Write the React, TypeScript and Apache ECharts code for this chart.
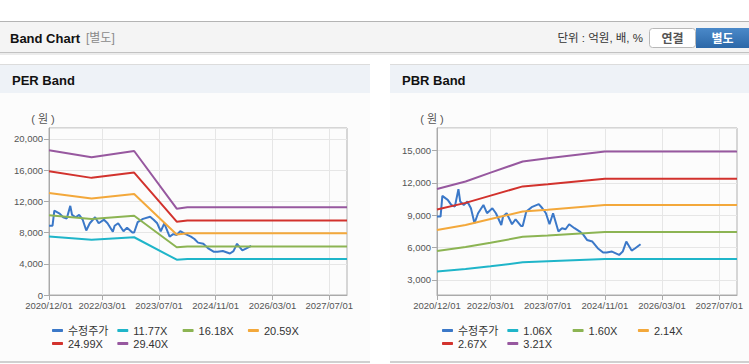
import React, { useEffect, useRef } from 'react';
import * as echarts from 'echarts';

// ---- axis labels ----
const xTickLabels = ['2020/12/01', '2022/03/01', '2023/07/01', '2024/11/01', '2026/03/01', '2027/07/01'];

// ---- adjusted price (수정주가) ----
const priceDates = [
  '2020/12/01', '2021/01/01', '2021/01/15', '2021/03/01', '2021/04/01', '2021/05/01', '2021/06/01', '2021/06/15',
  '2021/07/15', '2021/08/15', '2021/09/15', '2021/10/15', '2021/11/15', '2022/01/01', '2022/02/01', '2022/03/15',
  '2022/04/15', '2022/06/01', '2022/06/15', '2022/07/15', '2022/09/01', '2022/10/01', '2022/11/15', '2022/12/01',
  '2023/01/01', '2023/02/15', '2023/04/15', '2023/05/15', '2023/06/15', '2023/07/15', '2023/08/15', '2023/10/01',
  '2023/11/01', '2023/12/01', '2024/01/01', '2024/02/15', '2024/04/01', '2024/05/01', '2024/06/01', '2024/07/15',
  '2024/09/01', '2024/10/15', '2024/11/15', '2025/01/01', '2025/03/01', '2025/04/01', '2025/05/01', '2025/06/15',
  '2025/07/15', '2025/09/01',
];
const priceValues = [
  8880, 8880, 10800, 10430, 9960, 9800, 11420, 10270,
  9960, 10270, 9650, 8260, 9190, 9960, 9190, 9650,
  9190, 8100, 8880, 9190, 8170, 8630, 8010, 8010,
  9340, 9750, 10030, 9650, 9190, 8170, 9190, 7490,
  7800, 7700, 8170, 7800, 7490, 7180, 6710, 6560,
  5940, 5540, 5540, 5630, 5320, 5630, 6560, 5720,
  5940, 6310,
];

// ---- PER band ----
const perBandDates = ['2020/12/01', '2021/12/01', '2022/12/01', '2023/12/01', '2024/03/01', '2027/12/01'];
const per1177 = [7500, 7080, 7400, 4520, 4600, 4600];
const per1618 = [10220, 9740, 10150, 6120, 6220, 6220];
const per2059 = [13070, 12370, 12930, 7740, 7900, 7900];
const per2499 = [15850, 15010, 15690, 9400, 9560, 9560];
const per2940 = [18550, 17650, 18450, 11060, 11230, 11230];

// ---- PBR band ----
const pbrBandDates = ['2020/12/01', '2021/08/01', '2022/03/01', '2022/12/01', '2023/07/01', '2024/11/01', '2027/12/01'];
const pbr106 = [3790, 4010, 4260, 4630, 4740, 4930, 4930];
const pbr160 = [5680, 6060, 6440, 7000, 7120, 7450, 7450];
const pbr214 = [7630, 8100, 8650, 9350, 9520, 9950, 9950];
const pbr267 = [9540, 10150, 10820, 11680, 11880, 12400, 12400];
const pbr321 = [11430, 12130, 12960, 13990, 14300, 14920, 14920];

const perNames = ['수정주가', '11.77X', '16.18X', '20.59X', '24.99X', '29.40X'];
const pbrNames = ['수정주가', '1.06X', '1.60X', '2.14X', '2.67X', '3.21X'];
const colors = ['#3b78c8', '#1fb5c9', '#8cb453', '#f3a83b', '#d2322d', '#97589f'];

// monthly / mid-month categories 2020/12 .. 2027/12
const pad = (n: number) => (n < 10 ? '0' + n : '' + n);
const categories: string[] = [];
for (let m = 0; m <= 84; m++) {
  const y = 2020 + Math.floor((m + 11) / 12);
  const mo = ((m + 11) % 12) + 1;
  categories.push(`${y}/${pad(mo)}/01`);
  if (m < 84) categories.push(`${y}/${pad(mo)}/15`);
}

const FONT = "'Liberation Sans', 'Noto Sans CJK KR', sans-serif";
const labelSet = new Set(xTickLabels);
const showAt = (_i: number, v: string) => labelSet.has(v);

const pairs = (dates: string[], vals: number[]) => dates.map((d, i) => [d, vals[i]]);

function xAxisFor(gridIndex: number) {
  return {
    type: 'category',
    gridIndex,
    data: categories,
    boundaryGap: false,
    axisLine: { show: true, lineStyle: { color: '#aaaaaa' } },
    axisTick: { show: true, interval: showAt, length: 5, lineStyle: { color: '#aaaaaa' } },
    axisLabel: { interval: showAt, fontSize: 9.5, color: '#555', margin: 6, fontFamily: FONT },
    splitLine: { show: true, interval: showAt, lineStyle: { color: '#e6e6e6' } },
  };
}

function App() {
  const ref = useRef<HTMLDivElement>(null);
  useEffect(() => {
    if (!ref.current) return;
    const chart = echarts.init(ref.current, undefined, { renderer: 'svg' });

    const lineSeries = (name: string, xi: number, data: any[], color: string) => ({
      type: 'line',
      name,
      xAxisIndex: xi,
      yAxisIndex: xi,
      data,
      showSymbol: false,
      symbol: 'none',
      lineStyle: { width: 2, color },
      itemStyle: { color },
    });

    const perBands = [per1177, per1618, per2059, per2499, per2940];
    const pbrBands = [pbr106, pbr160, pbr214, pbr267, pbr321];

    const series: any[] = [];
    series.push(lineSeries(perNames[0], 0, pairs(priceDates, priceValues), colors[0]));
    perBands.forEach((b, i) => series.push(lineSeries(perNames[i + 1], 0, pairs(perBandDates, b), colors[i + 1])));
    series.push(lineSeries(pbrNames[0], 1, pairs(priceDates, priceValues), colors[0]));
    pbrBands.forEach((b, i) => series.push(lineSeries(pbrNames[i + 1], 1, pairs(pbrBandDates, b), colors[i + 1])));

    // one legend per item so that the items sit in fixed columns
    const colStep = 65.3;
    const legends: any[] = [];
    const addLegends = (names: string[], left0: number) => {
      names.forEach((n, i) => {
        const row = i < 4 ? 0 : 1;
        const col = i < 4 ? i : i - 4;
        legends.push({
          orient: 'horizontal',
          padding: 0,
          left: left0 + col * colStep,
          top: row === 0 ? 325 : 338,
          icon: 'roundRect',
          itemWidth: 11,
          itemHeight: 3,
          selectedMode: false,
          data: [n],
          textStyle: { fontSize: 11, color: '#333', fontFamily: FONT },
        });
      });
    };
    addLegends(perNames, 52);
    addLegends(pbrNames, 442);

    const panel = (x: number, w: number, title: string) => [
      { type: 'rect', z: -10, shape: { x, y: 64, width: w, height: 1 }, style: { fill: '#dcdcdc' } },
      { type: 'rect', z: -10, shape: { x, y: 65, width: w, height: 28 }, style: { fill: '#eef2f7' } },
      { type: 'rect', z: -10, shape: { x, y: 93, width: w, height: 268 }, style: { fill: '#fcfcfc' } },
      { type: 'rect', z: -10, shape: { x, y: 361, width: w, height: 2 }, style: { fill: '#d0d0d0' } },
      {
        type: 'text', z: 10, x: x + 12, y: 80,
        style: { text: title, fill: '#111', font: `bold 13px ${FONT}`, verticalAlign: 'middle' },
      },
    ];

    const unitText = (cx: number) => ({
      type: 'text', z: 10, x: cx, y: 119,
      style: { text: '( 원 )', fill: '#555', font: `11px ${FONT}`, align: 'center', verticalAlign: 'middle' },
    });

    const option: any = {
      animation: false,
      backgroundColor: '#ffffff',
      grid: [
        { left: 49, right: 402, top: 128, bottom: 69, show: true, borderColor: '#b0b0b0', borderWidth: 1, backgroundColor: 'transparent' },
        { left: 437, right: 12, top: 128, bottom: 69, show: true, borderColor: '#b0b0b0', borderWidth: 1, backgroundColor: 'transparent' },
      ],
      xAxis: [xAxisFor(0), xAxisFor(1)],
      yAxis: [
        {
          type: 'value', gridIndex: 0, min: 0, max: 21400, interval: 4000,
          axisLine: { show: true, lineStyle: { color: '#aaaaaa' } },
          axisTick: { show: true, length: 5, lineStyle: { color: '#aaaaaa' } },
          axisLabel: { fontSize: 9.5, color: '#555', margin: 6, showMaxLabel: false, fontFamily: FONT },
          splitLine: { show: true, lineStyle: { color: '#e6e6e6' } },
        },
        {
          type: 'value', gridIndex: 1, min: 1600, max: 17100, minInterval: 3000, maxInterval: 3000, splitNumber: 5,
          axisLine: { show: true, lineStyle: { color: '#aaaaaa' } },
          axisTick: { show: true, length: 5, lineStyle: { color: '#aaaaaa' } },
          axisLabel: { fontSize: 9.5, color: '#555', margin: 6, showMinLabel: false, showMaxLabel: false, fontFamily: FONT },
          splitLine: { show: true, lineStyle: { color: '#e6e6e6' } },
        },
      ],
      legend: legends,
      series,
      graphic: [
        // header
        { type: 'rect', z: -10, shape: { x: 0, y: 21, width: 749, height: 1 }, style: { fill: '#b4b4b4' } },
        { type: 'rect', z: -10, shape: { x: 0, y: 22, width: 749, height: 30 }, style: { fill: '#f4f4f4' } },
        { type: 'rect', z: -10, shape: { x: 0, y: 52, width: 749, height: 1 }, style: { fill: '#c2c2c2' } },
        { type: 'rect', z: -10, shape: { x: 0, y: 53, width: 749, height: 2 }, style: { fill: '#ececec' } },
        {
          type: 'text', z: 10, x: 10, y: 38,
          style: { text: 'Band Chart', fill: '#111', font: `bold 13px ${FONT}`, verticalAlign: 'middle' },
        },
        {
          type: 'text', z: 10, x: 86, y: 38,
          style: { text: '[별도]', fill: '#8a8a8a', font: `12px ${FONT}`, verticalAlign: 'middle' },
        },
        {
          type: 'text', z: 10, x: 643, y: 38,
          style: { text: '단위 : 억원, 배, %', fill: '#333', font: `11.5px ${FONT}`, align: 'right', verticalAlign: 'middle' },
        },
        {
          type: 'rect', z: 5, shape: { x: 649.5, y: 28.5, width: 46, height: 19, r: 3 },
          style: { fill: '#ffffff', stroke: '#b8b8b8', lineWidth: 1 },
        },
        {
          type: 'text', z: 10, x: 672.5, y: 38.5,
          style: { text: '연결', fill: '#555', font: `bold 12px ${FONT}`, align: 'center', verticalAlign: 'middle' },
        },
        {
          type: 'rect', z: 5, shape: { x: 696, y: 28, width: 53, height: 20 },
          style: {
            fill: new echarts.graphic.LinearGradient(0, 0, 0, 1, [
              { offset: 0, color: '#4a89c9' },
              { offset: 1, color: '#2c68a8' },
            ]),
          },
        },
        {
          type: 'text', z: 10, x: 722.5, y: 38.5,
          style: { text: '별도', fill: '#ffffff', font: `bold 12px ${FONT}`, align: 'center', verticalAlign: 'middle' },
        },
        ...panel(0, 370, 'PER Band'),
        ...panel(390, 359, 'PBR Band'),
        unitText(43),
        unitText(432),
      ],
    };
    chart.setOption(option);
    return () => chart.dispose();
  }, []);

  return (
    <div
      ref={ref}
      style={{ position: 'fixed', left: 0, top: 0, width: 749, height: 364, background: '#fff' }}
    />
  );
}

export default App;
